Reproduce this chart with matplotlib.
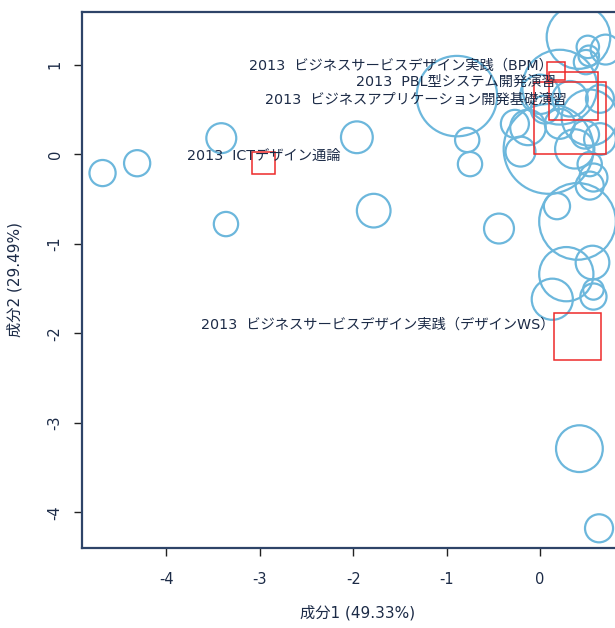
import matplotlib.pyplot as plt
from matplotlib.patches import Rectangle

plt.rcParams['font.family'] = ['DejaVu Sans', 'Noto Sans CJK JP']
plt.rcParams['axes.unicode_minus'] = False

# principal component scores of each course and their weight (radius, in x units)
pc1 = [-4.68, -4.31, -3.41, -3.36, -1.96, -1.78, -0.89, -0.78, -0.75, -0.44,
       0.41, 0.51, 0.52, 0.49, 0.70, 0.21, 0.53, 0.09, -0.21, -0.13,
       0.21, 0.05, 0.53, 0.57, 0.53, 0.64, 0.40, 0.18, 0.28, 0.56,
       0.13, 0.57, 0.57, 0.42, 0.63, 0.00, -0.27, 0.37, 0.64, 0.32, 0.48]
pc2 = [-0.21, -0.10, 0.18, -0.78, 0.19, -0.63, 0.65, 0.16, -0.11, -0.83,
       1.31, 1.20, 1.10, 1.03, 1.17, 0.75, 0.41, 0.06, 0.03, 0.30,
       0.34, 0.50, -0.11, -0.26, -0.35, 0.17, -0.75, -0.58, -1.34, -1.21,
       -1.62, -1.59, -1.51, -3.29, -4.18, 0.67, 0.34, 0.06, 0.62, 0.62, 0.22]
radius = [0.14, 0.14, 0.16, 0.13, 0.17, 0.18, 0.43, 0.13, 0.13, 0.16,
          0.34, 0.12, 0.11, 0.13, 0.16, 0.40, 0.30, 0.48, 0.16, 0.19,
          0.16, 0.15, 0.13, 0.15, 0.15, 0.17, 0.41, 0.14, 0.29, 0.18,
          0.22, 0.14, 0.11, 0.25, 0.15, 0.21, 0.15, 0.21, 0.15, 0.19, 0.15]

# highlighted 2013 courses
hl_names = ['2013  ビジネスサービスデザイン実践（BPM）',
            '2013  PBL型システム開発演習',
            '2013  ビジネスアプリケーション開発基礎演習',
            '2013  ICTデザイン通論',
            '2013  ビジネスサービスデザイン実践（デザインWS）']
hl_x = [0.17, 0.36, 0.32, -2.96, 0.40]
hl_y = [0.93, 0.65, 0.40, -0.10, -2.04]
hl_side = [0.20, 0.52, 0.77, 0.24, 0.50]
lab_x = [-1.49, -0.90, -1.33, -2.96, -1.74]
lab_y = [0.99, 0.81, 0.61, -0.02, -1.90]

navy = '#1c2b47'

fig = plt.figure(figsize=(6.15, 6.28), dpi=100)
ax = fig.add_axes([0.1333, 0.1274, 0.897, 0.8535])
ax.set_xlim(-4.9, 1.0)
ax.set_ylim(-4.40, 1.59)

# radius in x units -> marker size in points
fig.canvas.draw()
px_per_unit = ax.transData.transform((1, 0))[0] - ax.transData.transform((0, 0))[0]
pt_per_px = 72.0 / fig.dpi
sizes = [(2 * r * px_per_unit * pt_per_px) ** 2 for r in radius]
ax.scatter(pc1, pc2, s=sizes, facecolors='none', edgecolors='#6cb7dc',
           linewidths=1.6, zorder=2)

py_per_unit = ax.transData.transform((0, 1))[1] - ax.transData.transform((0, 0))[1]
for x, y, side in zip(hl_x, hl_y, hl_side):
    h = side * px_per_unit / py_per_unit
    ax.add_patch(Rectangle((x - side / 2, y - h / 2), side, h, fill=False,
                           edgecolor='#ee2a2a', linewidth=1.1, zorder=3))

for name, x, y in zip(hl_names, lab_x, lab_y):
    ax.text(x, y, name, ha='center', va='center', fontsize=10.3,
            color=navy, zorder=4)

ax.set_xticks([-4, -3, -2, -1, 0])
ax.set_yticks([-4, -3, -2, -1, 0, 1])
ax.tick_params(axis='both', direction='out', length=6, width=1, colors='#222222',
               labelcolor=navy, labelsize=10.5)
ax.tick_params(axis='x', pad=11)
ax.tick_params(axis='y', pad=8)
for lab in ax.get_yticklabels():
    lab.set_rotation(90)
    lab.set_va('center')

ax.spines['right'].set_visible(False)
for s in ['left', 'bottom', 'top']:
    ax.spines[s].set_color('#2e4468')
    ax.spines[s].set_linewidth(1.6)

ax.set_xlabel('成分1 (49.33%)', fontsize=11, color=navy, labelpad=13)
ax.set_ylabel('成分2 (29.49%)', fontsize=11, color=navy, labelpad=18)

fig.savefig('out.png', dpi=100)
